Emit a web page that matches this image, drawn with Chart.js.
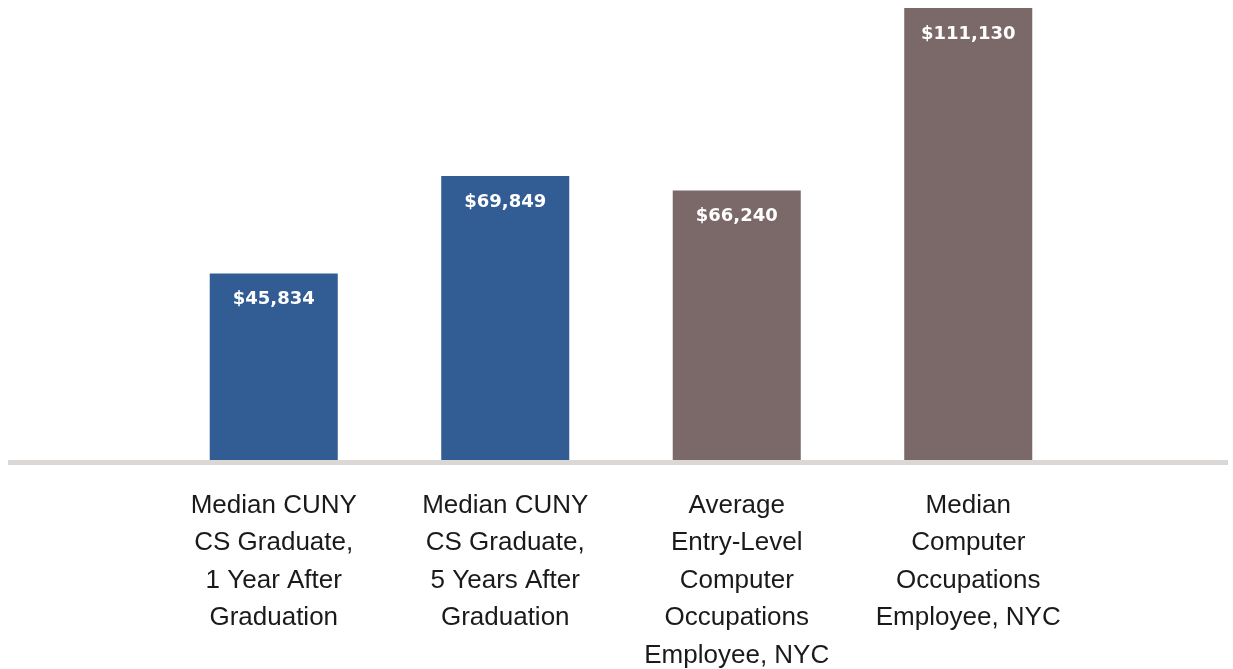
<!DOCTYPE html>
<html>
<head>
<meta charset="utf-8">
<script src="https://cdn.jsdelivr.net/npm/chart.js@4"></script>
<style>
  body { margin: 0; background: #fff; }
  #wrap { width: 1233px; height: 669px; position: relative; }
</style>
</head>
<body>
<div id="wrap"><canvas id="salaryChart"></canvas></div>
<script>
const categories = [
    ["Median CUNY", "CS Graduate,", "1 Year After", "Graduation"],
    ["Median CUNY", "CS Graduate,", "5 Years After", "Graduation"],
    ["Average", "Entry-Level", "Computer", "Occupations", "Employee, NYC"],
    ["Median", "Computer", "Occupations", "Employee, NYC"]
];
const salaries = [45834, 69849, 66240, 111130];
const barColors = ["#325d94", "#325d94", "#7b6869", "#7b6869"];

const money = v => "$" + v.toLocaleString("en-US");

// white value labels inside the top of each bar
const valueLabels = {
    id: "valueLabels",
    afterDatasetsDraw(chart) {
        const ctx = chart.ctx;
        const meta = chart.getDatasetMeta(0);
        ctx.save();
        ctx.fillStyle = "#ffffff";
        ctx.font = "bold 18px 'DejaVu Sans'";
        ctx.textAlign = "center";
        ctx.textBaseline = "middle";
        meta.data.forEach((bar, i) => {
            ctx.fillText(money(salaries[i]), bar.x, bar.y + 26);
        });
        ctx.restore();
    }
};

// thick grey baseline running almost the full width
const baseline = {
    id: "baseline",
    afterDatasetsDraw(chart) {
        const ctx = chart.ctx;
        const y = chart.scales.y.getPixelForValue(0);
        ctx.save();
        ctx.fillStyle = "#dad7d5";
        ctx.fillRect(8, y, 1220, 5);
        ctx.restore();
    }
};

const chartCtx = document.getElementById("salaryChart").getContext("2d");
new Chart(chartCtx, {
    type: "bar",
    data: {
        labels: categories,
        datasets: [{
            data: salaries,
            backgroundColor: barColors,
            borderWidth: 0,
            categoryPercentage: 1,
            barPercentage: 0.553
        }]
    },
    options: {
        responsive: true,
        maintainAspectRatio: false,
        animation: false,
        layout: { padding: { top: 8, left: 158, right: 149, bottom: 0 } },
        plugins: {
            legend: { display: false },
            tooltip: { enabled: false }
        },
        scales: {
            x: {
                grid: { display: false },
                border: { display: false },
                afterFit(scale) { scale.height = 209; },
                ticks: {
                    color: "#1a1a1a",
                    font: { family: "'Liberation Sans'", size: 26, lineHeight: 1.44 },
                    padding: 19,
                    maxRotation: 0,
                    autoSkip: false
                }
            },
            y: {
                display: false,
                min: 0,
                max: Math.max(...salaries)
            }
        }
    },
    plugins: [valueLabels, baseline]
});
</script>
</body>
</html>
